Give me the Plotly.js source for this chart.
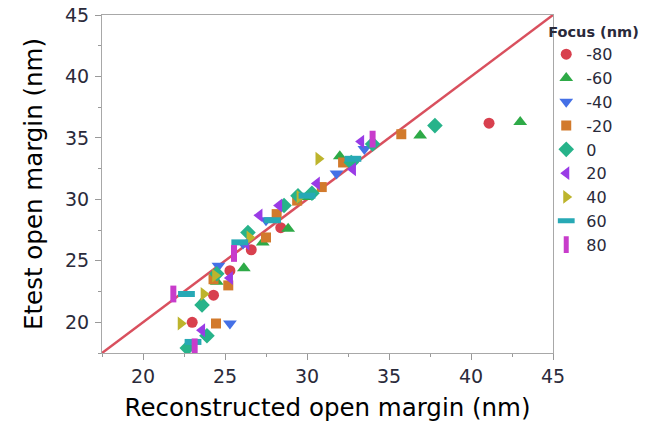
<!DOCTYPE html>
<html>
<head>
<meta charset="utf-8">
<script src="https://cdn.plot.ly/plotly-3.0.1.min.js"></script>
<style>html,body{margin:0;padding:0;background:#fff;}#chart{width:660px;height:432px;}</style>
</head>
<body>
<div id="chart"></div>
<script>
// Focus levels (legend)
const focusLabels = ["-80", "-60", "-40", "-20", "0", "20", "40", "60", "80"];

// Reconstructed open margin (x) and Etest open margin (y), per focus level
const x_m80 = [41.1, 23.0, 24.3, 25.3, 26.6, 28.4];
const y_m80 = [36.2, 20.0, 22.2, 24.2, 25.9, 27.7];

const x_m60 = [43.0, 36.9, 32.0, 28.85, 27.3, 26.15, 24.5, 23.6, 30.0];
const y_m60 = [36.3, 35.2, 33.5, 27.6, 26.5, 24.4, 23.3, 21.6, 30.2];

const x_m40 = [25.3, 24.6, 27.5, 31.8, 33.5, 26.1];
const y_m40 = [19.9, 24.6, 28.3, 32.1, 34.1, 26.4];

const x_m20 = [35.75, 24.45, 25.2, 24.3, 27.5, 28.15, 29.4, 30.9, 32.2];
const y_m20 = [35.3, 19.9, 23.0, 23.5, 26.9, 28.8, 29.9, 31.0, 33.0];

const x_0 = [37.8, 34.0, 32.7, 30.3, 29.45, 28.6, 26.4, 24.5, 23.6, 23.9, 22.7];
const y_0 = [36.0, 34.5, 33.0, 30.5, 30.3, 29.5, 27.3, 23.95, 21.4, 18.9, 17.9];

const x_20 = [33.3, 32.8, 30.6, 28.3, 27.1, 26.3, 25.3, 23.6];
const y_20 = [34.7, 32.45, 31.3, 29.5, 28.7, 26.4, 23.6, 19.35];

const x_40 = [30.7, 29.55, 26.5, 23.7, 22.3, 24.4];
const y_40 = [33.3, 30.2, 26.9, 22.3, 19.9, 23.8];

const x_60 = [22.65, 25.9, 23.05, 27.9, 30.0, 32.8];
const y_60 = [22.3, 26.5, 18.4, 28.3, 30.3, 33.3];

const x_80 = [21.85, 25.55, 23.15, 34.0];
const y_80 = [22.3, 25.6, 18.0, 34.9];

// Reference line y = x
const refLine = [17.5, 45];

const xs = [x_m80, x_m60, x_m40, x_m20, x_0, x_20, x_40, x_60, x_80];
const ys = [y_m80, y_m60, y_m40, y_m20, y_0, y_20, y_40, y_60, y_80];
const colors = ["#d8404e", "#2eaa47", "#4470e6", "#d27a2c", "#27b38a", "#9a3be6", "#bdb42c", "#27a9b5", "#c83ccb"];
const symbols = ["circle", "triangle-up", "triangle-down", "square", "diamond", "triangle-left", "triangle-right", "line-ew", "line-ns"];
const sizes = [11, 12, 12, 10, 12, 12, 12, 12, 12];

const traces = [{
  x: refLine, y: refLine, mode: "lines", type: "scatter",
  line: {color: "#d9505e", width: 2.5}, showlegend: false, hoverinfo: "skip"
}];

for (let i = 0; i < focusLabels.length; i++) {
  const isLine = symbols[i].startsWith("line");
  traces.push({
    x: xs[i], y: ys[i], mode: "markers", type: "scatter", name: focusLabels[i],
    marker: {
      symbol: symbols[i],
      size: sizes[i],
      color: colors[i],
      line: isLine ? {color: colors[i], width: 6} : {width: 0}
    }
  });
}

const fam = "DejaVu Sans, Verdana, sans-serif";
const tickFont = {family: fam, size: 19, color: "#2a2a3a"};
const titleFont = {family: fam, size: 24.5, color: "#000"};

const layout = {
  width: 660, height: 432,
  margin: {l: 102, r: 107, t: 15, b: 79},
  paper_bgcolor: "#fff", plot_bgcolor: "#fff",
  xaxis: {
    range: [17.5, 45], tick0: 20, dtick: 5, ticks: "outside", ticklen: 6, tickcolor: "#999",
    showgrid: false, zeroline: false, showline: true, linecolor: "#a8a8a8", linewidth: 1, mirror: true,
    tickfont: tickFont,
    minor: {dtick: 2.5, tick0: 17.5, ticks: "outside", ticklen: 3, tickcolor: "#999", showgrid: false},
    title: {text: "Reconstructed open margin (nm)", font: titleFont, standoff: 13}
  },
  yaxis: {
    range: [17.5, 45], tick0: 20, dtick: 5, ticks: "outside", ticklen: 6, tickcolor: "#999",
    showgrid: false, zeroline: false, showline: true, linecolor: "#a8a8a8", linewidth: 1, mirror: true,
    tickfont: tickFont, ticklabelstandoff: 2,
    minor: {dtick: 2.5, tick0: 17.5, ticks: "outside", ticklen: 3, tickcolor: "#999", showgrid: false},
    title: {text: "Etest open margin (nm)", font: titleFont, standoff: 15}
  },
  showlegend: true,
  legend: {
    x: 0.985, y: 0.99, xanchor: "left", yanchor: "top",
    font: {family: fam, size: 16, color: "#2a2a3a"},
    title: {text: "<b>Focus (nm)</b>", font: {family: fam, size: 14.5, color: "#2a2a3a"}},
    itemwidth: 30, tracegroupgap: 0, bgcolor: "rgba(0,0,0,0)"
  }
};

Plotly.newPlot("chart", traces, layout, {displayModeBar: false, staticPlot: true});
</script>
</body>
</html>
